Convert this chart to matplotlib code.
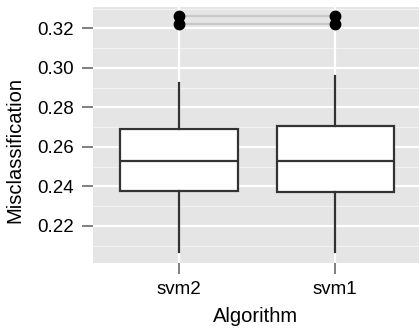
# Misclassification boxplot, ggplot-like look
import numpy as np
import matplotlib.pyplot as plt

algorithms = ['svm2', 'svm1']
q1 = [0.2376, 0.2373]
median = [0.2528, 0.2530]
q3 = [0.2689, 0.2705]
whisker_low = [0.2069, 0.2069]
whisker_high = [0.2923, 0.2958]
outliers = [[0.3222, 0.3264], [0.3222, 0.3264]]

y_ticks = [0.22, 0.24, 0.26, 0.28, 0.30, 0.32]
y_minor = [0.21, 0.23, 0.25, 0.27, 0.29, 0.31, 0.33]

plt.rcParams['font.family'] = ['Liberation Sans', 'DejaVu Sans']

fig = plt.figure(figsize=(4.19, 3.28), dpi=100)
ax = fig.add_axes([0.222, 0.199, 0.778, 0.7797])
ax.set_facecolor('#e5e5e5')
for s in ax.spines.values():
    s.set_visible(False)

pos = np.arange(1, len(algorithms) + 1)

# grid
for y in y_minor:
    ax.axhline(y, color='#f2f2f2', lw=0.8, zorder=0)
for y in y_ticks:
    ax.axhline(y, color='white', lw=1.6, zorder=0)
for x in pos:
    ax.axvline(x, color='white', lw=1.6, zorder=0)

stats = []
for i in range(len(algorithms)):
    stats.append(dict(med=median[i], q1=q1[i], q3=q3[i],
                      whislo=whisker_low[i], whishi=whisker_high[i],
                      fliers=outliers[i], label=algorithms[i]))

ax.bxp(stats, positions=pos, widths=0.75, patch_artist=True, showcaps=False,
       boxprops=dict(facecolor='white', edgecolor='#333333', lw=1.6),
       medianprops=dict(color='#333333', lw=1.6),
       whiskerprops=dict(color='#333333', lw=1.6),
       flierprops=dict(marker='o', markerfacecolor='black',
                       markeredgecolor='black', markersize=7.5),
       zorder=2)

# lines joining the outliers of the two algorithms
outl = np.array(outliers)
for k in range(outl.shape[1]):
    ax.plot(pos, outl[:, k], color='#c9c9c9', lw=1.6, zorder=1.5)

ax.set_xlim(0.449, 2.538)
ax.set_ylim(0.2013, 0.3308)
ax.set_yticks(y_ticks)
ax.set_yticklabels(['%.2f' % v for v in y_ticks])
ax.set_xticks(pos)
ax.set_xticklabels(algorithms)
ax.tick_params(axis='both', length=8, width=1.4, color='#7f7f7f',
               labelsize=13.5, labelcolor='black', pad=5.5)

ax.set_xlabel('Algorithm', fontsize=14.5)
ax.set_ylabel('Misclassification', fontsize=14.5)
ax.xaxis.set_label_coords(0.5, -0.175)
ax.yaxis.set_label_coords(-0.212, 0.44)

fig.savefig('out.png', dpi=100)
